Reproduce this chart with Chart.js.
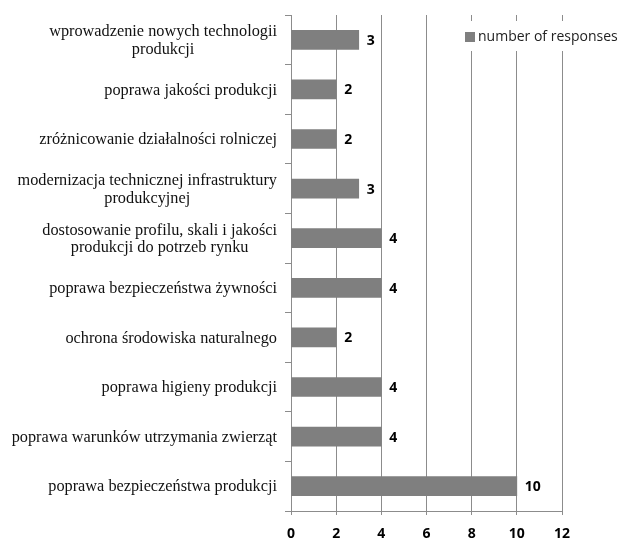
<!DOCTYPE html>
<html>
<head>
<meta charset="utf-8">
<script src="https://cdn.jsdelivr.net/npm/chart.js@4"></script>
<style>
  html, body { margin: 0; padding: 0; background: #fff; }
  #wrap { width: 621px; height: 540px; }
</style>
</head>
<body>
<div id="wrap"><canvas id="chart"></canvas></div>
<script>
/* ========= DATA ========= */

const categories = [
  ["wprowadzenie nowych technologii", "produkcji"],
  "poprawa jakości produkcji",
  "zróżnicowanie działalności rolniczej",
  ["modernizacja technicznej infrastruktury", "produkcyjnej"],
  ["dostosowanie profilu, skali i jakości", "produkcji do potrzeb rynku"],
  "poprawa bezpieczeństwa żywności",
  "ochrona środowiska naturalnego",
  "poprawa higieny produkcji",
  "poprawa warunków utrzymania zwierząt",
  "poprawa bezpieczeństwa produkcji"
];

const responses = [3, 2, 2, 3, 4, 4, 2, 4, 4, 10];

const xTicks = [0, 2, 4, 6, 8, 10, 12];

const seriesName = "number of responses";


/* ========= PLUGINS ========= */

// category labels: block right aligned, lines centered inside block
const catLabels = {
  id: "catLabels",
  afterDraw(chart) {
    const ctx = chart.ctx;
    const y = chart.scales.y;
    ctx.save();
    ctx.font = "16.3px 'Liberation Serif'";
    ctx.fillStyle = "#111";
    ctx.textBaseline = "middle";
    ctx.textAlign = "center";
    const right = 277;
    const lh = 17.5;
    chart.data.labels.forEach((lab, i) => {
      const lines = Array.isArray(lab) ? lab : [lab];
      const w = Math.max(...lines.map(l => ctx.measureText(l).width));
      const cx = right - w / 2;
      const cy = y.getPixelForTick(i) + 1;
      const top = cy - (lines.length - 1) * lh / 2;
      lines.forEach((l, j) => ctx.fillText(l, cx, top + j * lh));
    });
    ctx.restore();
  }
};

// value next to bar end
const valueLabels = {
  id: "valueLabels",
  afterDatasetsDraw(chart) {
    const ctx = chart.ctx;
    const meta = chart.getDatasetMeta(0);
    ctx.save();
    ctx.font = "bold 14px 'Open Sans'";
    ctx.fillStyle = "#000";
    ctx.textBaseline = "middle";
    ctx.textAlign = "left";
    meta.data.forEach((bar, i) => {
      ctx.fillText(chart.data.datasets[0].data[i], bar.x + 8, bar.y + 1);
    });
    ctx.restore();
  }
};

// legend box over the grid
const boxLegend = {
  id: "boxLegend",
  afterDraw(chart) {
    const ctx = chart.ctx;
    const ds = chart.data.datasets[0];
    ctx.save();
    ctx.fillStyle = "#fff";
    ctx.fillRect(460, 21, 161, 30);
    ctx.fillStyle = ds.backgroundColor;
    ctx.fillRect(465, 32, 10, 10);
    ctx.font = "14px 'Open Sans'";
    ctx.fillStyle = "#222";
    ctx.textBaseline = "middle";
    ctx.fillText(ds.label, 478, 37);
    ctx.restore();
  }
};


/* ========= CHART ========= */

const canvas = document.getElementById("chart");

new Chart(canvas, {
  type: "bar",
  data: {
    labels: categories,
    datasets: [{
      label: seriesName,
      data: responses,
      backgroundColor: "#7f7f7f",
      barThickness: 19
    }]
  },
  options: {
    indexAxis: "y",
    responsive: true,
    maintainAspectRatio: false,
    animation: false,
    layout: {
      padding: { left: 285, right: 59, top: 15, bottom: -13 }
    },
    plugins: {
      legend: { display: false },
      tooltip: { enabled: false }
    },
    scales: {
      x: {
        min: 0,
        max: 12,
        afterBuildTicks: axis => {
          axis.ticks = xTicks.map(v => ({ value: v }));
        },
        grid: {
          color: "#8c8c8c",
          tickLength: 4
        },
        border: { color: "#8c8c8c" },
        ticks: {
          padding: 12,
          color: "#000",
          font: { family: "'Open Sans'", size: 14, weight: "bold", lineHeight: 1 }
        }
      },
      y: {
        grid: {
          drawOnChartArea: false,
          color: "#8c8c8c",
          tickLength: 6,
          offset: true
        },
        border: { color: "#8c8c8c" },
        ticks: { display: false }
      }
    }
  },
  plugins: [catLabels, valueLabels, boxLegend]
});
</script>
</body>
</html>
